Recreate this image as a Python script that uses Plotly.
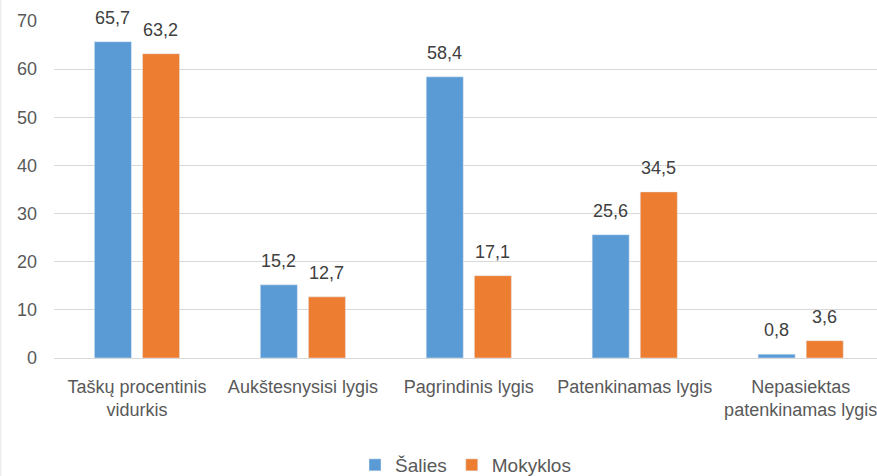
import plotly.graph_objects as go

categories = ["Taškų procentinis<br>vidurkis", "Aukštesnysisi lygis", "Pagrindinis lygis",
              "Patenkinamas lygis", "Nepasiektas<br>patenkinamas lygis"]
salies = [65.7, 15.2, 58.4, 25.6, 0.8]
mokyklos = [63.2, 12.7, 17.1, 34.5, 3.6]
y_ticks = [0, 10, 20, 30, 40, 50, 60, 70]

def fmt(v):
    return f"{v:.1f}".replace(".", ",")

FONT = "Liberation Sans"
fig = go.Figure()
fig.add_trace(go.Bar(name="Šalies", x=categories, y=salies, marker_color="#5B9BD5"))
fig.add_trace(go.Bar(name="Mokyklos", x=categories, y=mokyklos, marker_color="#ED7D31"))

# value labels above bars
for vals, shift in ((salies, -24), (mokyklos, 24)):
    for c, v in zip(categories, vals):
        fig.add_annotation(x=c, y=v, text=fmt(v), showarrow=False, xshift=shift,
                           yanchor="bottom", yshift=12,
                           font=dict(size=18, color="#404040", family=FONT))

# faint chart border at left edge
fig.add_shape(type="line", xref="paper", yref="paper", x0=-53.5/823, x1=-53.5/823,
              y0=-2, y1=2, line=dict(color="#EBEBEB", width=1.5))

fig.update_layout(
    width=877, height=476,
    margin=dict(l=54, r=0, t=21, b=118, autoexpand=False),
    barmode="group", bargap=0.42, bargroupgap=0.23,
    plot_bgcolor="white", paper_bgcolor="white",
    font=dict(family=FONT, size=18, color="#595959"),
    showlegend=True,
    legend=dict(orientation="h", x=0.5, xanchor="center", yref="container",
                y=(476 - 465) / 476, yanchor="middle",
                font=dict(size=19, color="#595959"), traceorder="normal",
                itemwidth=30, tracegroupgap=0),
)
fig.update_xaxes(range=[-0.5, 4.46], showgrid=False, showline=False, ticks="",
                 tickfont=dict(size=18, color="#595959"), ticklabelstandoff=16,
                 automargin=False)
fig.update_yaxes(range=[0, 70], tickvals=y_ticks, showgrid=True, gridcolor="#D9D9D9",
                 gridwidth=1, zeroline=True, zerolinecolor="#D9D9D9", zerolinewidth=1,
                 tickfont=dict(size=18, color="#595959"), ticklabelstandoff=16,
                 automargin=False)

fig.write_html("out.html", config={"displayModeBar": False},
               post_script="document.body.style.margin='0';document.body.style.overflow='hidden';")
